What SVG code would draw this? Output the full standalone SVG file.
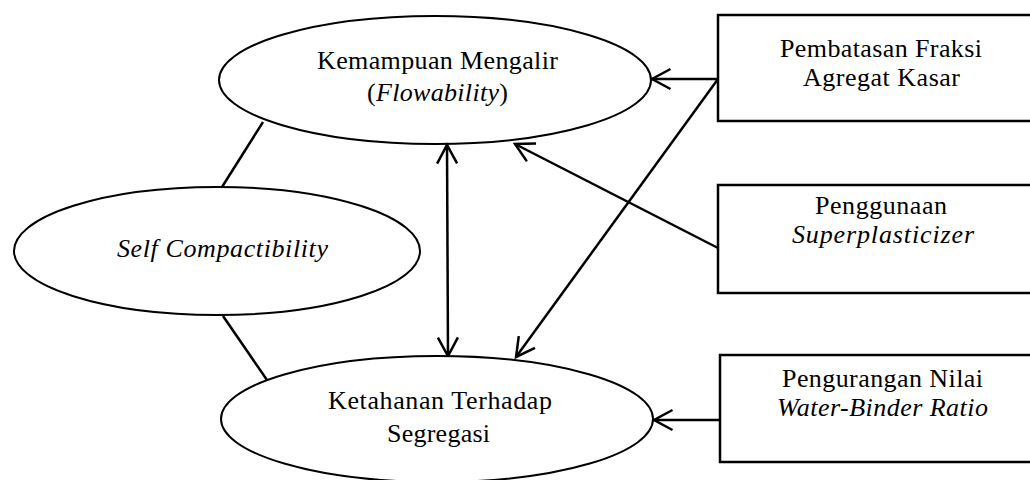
<svg xmlns="http://www.w3.org/2000/svg" width="1030" height="480" viewBox="0 0 1030 480">
  <style>
    .shape { fill: #ffffff; stroke: #000000; stroke-width: 2; }
    .box { fill: #ffffff; stroke: #000000; stroke-width: 2.5; }
    .conn { fill: none; stroke: #000000; stroke-width: 2.5; }
    .t { font-family: "Liberation Serif", "Times New Roman", serif; font-size: 26px; fill: #000000; }
    .i { font-style: italic; }
  </style>
  <defs>
    <marker id="arr" viewBox="-25 -15 30 30" refX="0" refY="0" markerWidth="30" markerHeight="30" markerUnits="userSpaceOnUse" orient="auto-start-reverse">
      <path d="M -18.5 -10 L 0 0 L -18.5 10" fill="none" stroke="#000000" stroke-width="2.5"/>
    </marker>
  </defs>
  <rect width="1030" height="480" fill="#ffffff"/>

  <g id="connectors">
    <line class="conn" x1="263" y1="122" x2="222" y2="187"/>
    <line class="conn" x1="223" y1="316" x2="267" y2="380"/>
    <line class="conn" x1="447" y1="145" x2="448" y2="356" marker-start="url(#arr)" marker-end="url(#arr)"/>
    <line class="conn" x1="718" y1="248" x2="515" y2="144" marker-end="url(#arr)"/>
    <line class="conn" x1="718" y1="79" x2="652" y2="79" marker-end="url(#arr)"/>
    <line class="conn" x1="718" y1="79" x2="516" y2="357" marker-end="url(#arr)"/>
    <line class="conn" x1="720" y1="420" x2="654" y2="420" marker-end="url(#arr)"/>
  </g>

  <g id="node-flowability">
    <ellipse class="shape" cx="435" cy="80" rx="216" ry="64" style="fill:none"/>
    <text class="t" x="317" y="69" textLength="241" lengthAdjust="spacing">Kemampuan Mengalir</text>
    <text class="t" x="367" y="101" textLength="141" lengthAdjust="spacing">(<tspan class="i">Flowability</tspan>)</text>
  </g>

  <g id="node-self-compactibility">
    <ellipse class="shape" cx="217" cy="251" rx="203" ry="64"/>
    <text class="t i" x="117" y="257" textLength="211" lengthAdjust="spacing">Self Compactibility</text>
  </g>

  <g id="node-segregasi">
    <ellipse class="shape" cx="437" cy="419" rx="216" ry="63"/>
    <text class="t" x="328" y="409" textLength="224" lengthAdjust="spacing">Ketahanan Terhadap</text>
    <text class="t" x="387" y="442" textLength="103" lengthAdjust="spacing">Segregasi</text>
  </g>

  <g id="node-agregat">
    <rect class="box" x="718" y="15" width="330" height="106"/>
    <text class="t" x="780" y="57" textLength="202" lengthAdjust="spacing">Pembatasan Fraksi</text>
    <text class="t" x="803" y="86" textLength="157" lengthAdjust="spacing">Agregat Kasar</text>
  </g>

  <g id="node-superplasticizer">
    <rect class="box" x="718" y="185" width="330" height="108"/>
    <text class="t" x="815" y="214" textLength="132" lengthAdjust="spacing">Penggunaan</text>
    <text class="t i" x="792" y="243" textLength="182" lengthAdjust="spacing">Superplasticizer</text>
  </g>

  <g id="node-wbr">
    <rect class="box" x="720" y="355" width="330" height="107"/>
    <text class="t" x="782" y="387" textLength="201" lengthAdjust="spacing">Pengurangan Nilai</text>
    <text class="t i" x="777" y="416" textLength="211" lengthAdjust="spacing">Water-Binder Ratio</text>
  </g>
</svg>
